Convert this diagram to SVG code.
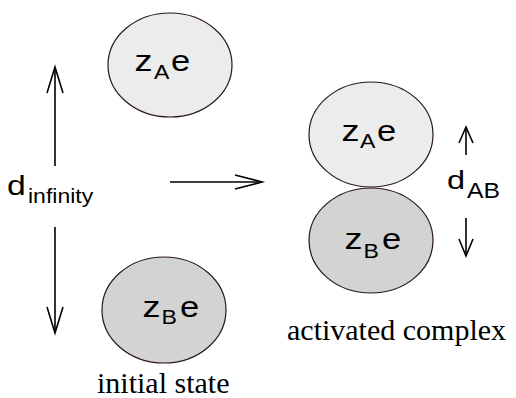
<svg xmlns="http://www.w3.org/2000/svg" width="516" height="398" viewBox="0 0 516 398">
  <style>
    .sans { font-family: "Liberation Sans", Arial, sans-serif; fill: #000; }
    .main { font-size: 30px; }
    .sub { font-size: 21px; }
    .serif { font-family: "Liberation Serif", "Times New Roman", serif; fill: #000; font-size: 30px; }
    .ball { stroke: #2a1616; stroke-width: 1.2; }
    .light { fill: #ececec; }
    .dark { fill: #d3d3d3; }
    .arr { fill: none; stroke: #000; stroke-width: 1.6; }
  </style>
  <rect width="516" height="398" fill="#fff"/>

  <g id="initial-A">
    <ellipse class="ball light" cx="170" cy="65" rx="62" ry="52"/>
    <text class="sans main" transform="translate(134.5 71) scale(1.2 1)">z</text>
    <text class="sans sub" transform="translate(154 79) scale(1.1 1)">A</text>
    <text class="sans main" transform="translate(171 71) scale(1.15 1)">e</text>
  </g>

  <g id="initial-B">
    <ellipse class="ball dark" cx="164" cy="310" rx="62" ry="53"/>
    <text class="sans main" transform="translate(142.5 317) scale(1.2 1)">z</text>
    <text class="sans sub" transform="translate(161.5 324) scale(1.1 1)">B</text>
    <text class="sans main" transform="translate(180 317) scale(1.15 1)">e</text>
  </g>

  <g id="complex-A">
    <ellipse class="ball light" cx="371" cy="134.5" rx="62" ry="52.5"/>
    <text class="sans main" transform="translate(341.5 141) scale(1.2 1)">z</text>
    <text class="sans sub" transform="translate(360 148) scale(1.1 1)">A</text>
    <text class="sans main" transform="translate(377 141) scale(1.15 1)">e</text>
  </g>

  <g id="complex-B">
    <ellipse class="ball dark" cx="371" cy="240.5" rx="62" ry="52.5"/>
    <text class="sans main" transform="translate(344.5 249) scale(1.2 1)">z</text>
    <text class="sans sub" transform="translate(363.5 258) scale(1.1 1)">B</text>
    <text class="sans main" transform="translate(382 249) scale(1.15 1)">e</text>
  </g>

  <g id="label-dinf">
    <text class="sans" font-size="27" transform="translate(7 195) scale(1.25 1)">d</text>
    <text class="sans" font-size="20" transform="translate(28 203) scale(1.15 1)">infinity</text>
  </g>

  <g id="label-dAB">
    <text class="sans" font-size="26" transform="translate(447 189) scale(1.25 1)">d</text>
    <text class="sans" font-size="21.5" transform="translate(467 198) scale(1.15 1)">AB</text>
  </g>

  <g id="caption-initial">
    <text class="serif" x="97" y="393">initial state</text>
  </g>
  <g id="caption-complex">
    <text class="serif" x="287" y="340" font-size="30.8">activated complex</text>
  </g>

  <g id="connectors">
    <line class="arr" x1="55" y1="166" x2="55" y2="67"/>
    <polyline class="arr" points="47,93 55,67 63,93"/>
    <line class="arr" x1="55" y1="227" x2="55" y2="333"/>
    <polyline class="arr" points="47,307 55,333 63,307"/>
    <line class="arr" x1="170" y1="182" x2="262" y2="182"/>
    <polyline class="arr" points="235,175 262,182 235,189"/>
    <line class="arr" x1="466" y1="155" x2="466" y2="127"/>
    <polyline class="arr" points="459,143 466,127 473,143"/>
    <line class="arr" x1="466" y1="218" x2="466" y2="256"/>
    <polyline class="arr" points="459,239 466,256 473,239"/>
  </g>
</svg>
